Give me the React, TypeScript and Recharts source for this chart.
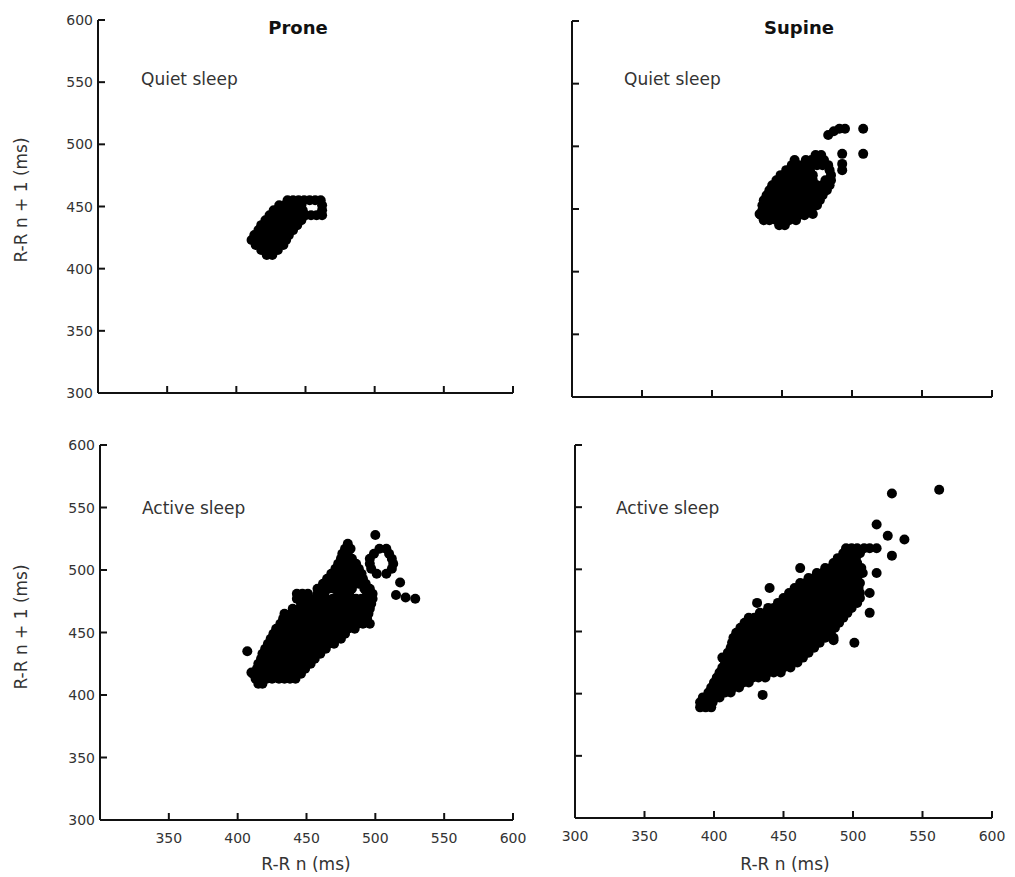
import React from "react";
import { ScatterChart, Scatter, XAxis, YAxis } from "recharts";

// tick values shared by both axes
const TICKS = [300, 350, 400, 450, 500, 550, 600];

const proneQuietRows = [
  [411, 422, 426],
  [415, 418, 422, 426, 430],
  [419, 414, 418, 423, 427, 431, 434],
  [423, 411, 415, 419, 424, 428, 432, 436],
  [427, 413, 417, 421, 426, 430, 434, 438],
  [431, 416, 420, 424, 429, 433, 437, 441],
  [435, 418, 422, 427, 431, 435, 440, 444],
  [439, 421, 425, 430, 434, 438, 443, 447],
  [443, 424, 428, 433, 437, 441, 446, 450, 454, 458, 462],
  [447, 427, 431, 436, 440, 444, 448, 462],
  [451, 431, 435, 439, 443, 447, 462],
  [455, 437, 441, 445, 449, 453, 457, 461],
];
const proneQuietExtra: number[][] = [];

const supineQuietRows = [
  [437, 448, 452],
  [441, 437, 441, 446, 450, 455, 460],
  [445, 435, 440, 444, 449, 453, 458, 462, 466],
  [449, 436, 440, 445, 449, 454, 458, 462, 467, 471],
  [453, 436, 441, 445, 450, 454, 459, 463, 468, 472, 475],
  [457, 437, 442, 446, 451, 455, 460, 464, 469, 473, 477],
  [461, 439, 443, 448, 452, 457, 461, 466, 470, 475, 479],
  [465, 441, 445, 450, 454, 459, 463, 468, 472, 477, 482],
  [469, 443, 448, 452, 457, 461, 466, 470, 475, 479, 484],
  [473, 446, 450, 455, 459, 464, 468, 472, 481, 485],
  [477, 449, 454, 458, 463, 467, 472, 485],
  [481, 453, 457, 462, 466, 470, 484],
  [485, 457, 462, 466, 471, 475, 479, 483],
  [489, 459, 467, 471, 476, 480],
  [493, 474, 478],
];
const supineQuietExtra = [
  [508, 514], [508, 494], [483, 509], [487, 512], [491, 514], [495, 514],
  [493, 494], [493, 486], [493, 481], [472, 446], [434, 446],
];

const proneActiveRows = [
  [409, 415, 418],
  [413, 413, 417, 421, 425, 430, 434, 438, 442],
  [417, 411, 415, 419, 424, 428, 432, 437, 441, 446],
  [421, 414, 418, 422, 427, 431, 435, 440, 444, 449],
  [425, 415, 419, 424, 428, 432, 437, 441, 445, 450, 453],
  [429, 417, 421, 425, 430, 434, 438, 443, 447, 451, 456],
  [433, 418, 422, 427, 431, 435, 440, 444, 448, 453, 457, 460],
  [437, 420, 424, 429, 433, 437, 442, 446, 450, 455, 459, 464],
  [441, 422, 426, 431, 435, 439, 444, 448, 452, 457, 461, 466, 470],
  [445, 424, 428, 433, 437, 441, 446, 450, 454, 459, 463, 467, 471, 475],
  [449, 426, 430, 435, 439, 443, 448, 452, 456, 461, 465, 469, 474, 478],
  [453, 428, 432, 437, 441, 445, 450, 454, 458, 463, 467, 471, 476, 480, 485],
  [457, 431, 435, 439, 444, 448, 452, 457, 461, 465, 470, 474, 478, 483, 487, 491, 496],
  [461, 433, 437, 442, 446, 450, 455, 459, 463, 468, 472, 476, 481, 485, 489, 494],
  [465, 434, 439, 444, 448, 452, 457, 461, 465, 470, 474, 478, 483, 487, 491, 495],
  [469, 440, 445, 449, 454, 458, 462, 467, 471, 475, 480, 484, 488, 492, 496],
  [473, 446, 450, 455, 459, 463, 468, 472, 476, 481, 485, 489, 493, 497],
  [477, 443, 447, 451, 456, 460, 464, 469, 473, 477, 482, 486, 490, 494, 498],
  [481, 443, 447, 451, 458, 463, 473, 477, 481, 494, 498],
  [485, 458, 462, 466, 470, 475, 479, 483, 492, 496],
  [489, 462, 466, 471, 475, 479, 484, 488, 493],
  [493, 465, 469, 474, 478, 482, 487, 491],
  [497, 468, 472, 477, 481, 485, 490, 501, 508],
  [501, 471, 475, 480, 484, 488, 497, 512],
  [505, 473, 477, 482, 486, 496, 513],
  [509, 475, 479, 483, 496, 512],
  [513, 476, 480, 499, 510],
  [517, 478, 482, 503, 508],
  [521, 480],
  [528, 500],
];
const proneActiveExtra = [
  [407, 435], [410, 418], [518, 490], [515, 480], [522, 478], [529, 477],
];

const supineActiveRows = [
  [389, 390, 394, 398],
  [393, 390, 395, 399],
  [397, 392, 396, 401, 404],
  [401, 396, 400, 404, 408, 412],
  [405, 398, 402, 406, 410, 414, 418],
  [409, 400, 404, 408, 413, 417, 421, 425],
  [413, 402, 406, 411, 415, 419, 424, 428, 432, 437],
  [417, 404, 408, 413, 417, 421, 426, 430, 434, 439, 443, 448],
  [421, 406, 410, 415, 419, 423, 428, 432, 436, 441, 445, 450, 455],
  [425, 408, 412, 417, 421, 425, 430, 434, 438, 443, 447, 452, 456, 460],
  [429, 406, 411, 415, 419, 424, 428, 432, 437, 441, 445, 450, 454, 459, 464],
  [433, 410, 414, 418, 423, 427, 431, 436, 440, 444, 449, 453, 458, 462, 468],
  [437, 412, 416, 421, 425, 429, 434, 438, 442, 447, 451, 456, 460, 464, 468, 472],
  [441, 413, 417, 422, 426, 430, 435, 439, 443, 448, 452, 457, 461, 465, 470, 476, 501],
  [445, 414, 419, 423, 427, 432, 436, 440, 445, 449, 454, 458, 462, 467, 471, 476, 480, 486],
  [449, 416, 420, 425, 429, 433, 438, 442, 446, 451, 455, 459, 464, 468, 472, 477, 481, 484],
  [453, 419, 423, 427, 432, 436, 440, 445, 449, 453, 458, 462, 466, 471, 475, 479, 483, 487],
  [457, 422, 426, 430, 435, 439, 443, 448, 452, 456, 461, 465, 469, 474, 478, 482, 486, 490],
  [461, 425, 429, 434, 438, 442, 447, 451, 455, 460, 464, 468, 473, 477, 481, 485, 489, 493],
  [465, 433, 437, 441, 446, 450, 455, 459, 463, 468, 472, 476, 481, 485, 489, 493, 496, 512],
  [469, 439, 443, 447, 452, 456, 460, 465, 469, 473, 478, 482, 486, 491, 495, 499],
  [473, 431, 446, 450, 454, 459, 463, 467, 472, 476, 480, 485, 489, 493, 497, 503],
  [477, 450, 454, 458, 463, 467, 471, 476, 480, 484, 489, 493, 497, 501, 505],
  [481, 454, 458, 463, 467, 471, 476, 480, 484, 489, 493, 497, 501, 505, 512],
  [485, 440, 458, 462, 467, 471, 475, 480, 484, 488, 493, 497, 501, 504],
  [489, 462, 466, 470, 475, 479, 483, 488, 492, 496, 501, 505],
  [493, 468, 472, 477, 481, 485, 490, 494, 498, 503],
  [497, 474, 478, 482, 487, 491, 495, 499, 503, 507, 517],
  [501, 462, 480, 484, 488, 493, 497, 501, 506],
  [505, 486, 490, 494, 499, 503],
  [509, 489, 493, 498, 502],
  [513, 493, 497, 501, 505],
  [517, 495, 499, 503, 508, 512, 517],
];
const supineActiveExtra = [
  [562, 564], [528, 561], [517, 536], [525, 527], [537, 524], [528, 511],
  [435, 399], [486, 443],
];

const toPoints = (rows: number[][], extra: number[][]) => [
  ...rows.flatMap(([y, ...xs]) => xs.map((x) => ({ x, y }))),
  ...extra.map(([x, y]) => ({ x, y })),
];

const FONT = "DejaVu Sans";
const INK = "#111";
const YW = 60;
const XH = 40;
const MT = 10;
const MR = 15;

const Dot = (props: any) => <circle cx={props.cx} cy={props.cy} r={5} fill="#000" />;

const makeYTick = (show: boolean) => (props: any) => {
  const { x, y, payload } = props;
  return (
    <g>
      <line x1={x} x2={x + 7} y1={y} y2={y} stroke={INK} strokeWidth={2} />
      {show && (
        <text x={x - 5} y={y + 5} textAnchor="end" fontSize={14} fill="#333" fontFamily={FONT}>
          {payload.value}
        </text>
      )}
    </g>
  );
};

const makeXTick = (from: number | null) => (props: any) => {
  const { x, y, payload } = props;
  return (
    <g>
      <line x1={x} x2={x} y1={y} y2={y - 7} stroke={INK} strokeWidth={2} />
      {from !== null && payload.value >= from && (
        <text x={x} y={y + 23} textAnchor="middle" fontSize={14} fill="#333" fontFamily={FONT}>
          {payload.value}
        </text>
      )}
    </g>
  );
};

type PanelProps = {
  left: number;
  top: number;
  w: number;
  h: number;
  data: { x: number; y: number }[];
  xFrom: number | null;
  yLabels: boolean;
};

const Panel = ({ left, top, w, h, data, xFrom, yLabels }: PanelProps) => (
  <div style={{ position: "absolute", left: left - YW, top: top - MT }}>
    <ScatterChart
      width={YW + w + MR}
      height={MT + h + XH}
      margin={{ top: MT, right: MR, bottom: 0, left: 0 }}
    >
      <XAxis
        type="number"
        dataKey="x"
        domain={[300, 600]}
        ticks={TICKS}
        interval={0}
        height={XH}
        tickSize={0}
        tickMargin={0}
        tickLine={false}
        axisLine={{ stroke: INK, strokeWidth: 2 }}
        tick={makeXTick(xFrom)}
      />
      <YAxis
        type="number"
        dataKey="y"
        domain={[300, 600]}
        ticks={TICKS}
        interval={0}
        width={YW}
        tickSize={0}
        tickMargin={0}
        tickLine={false}
        axisLine={{ stroke: INK, strokeWidth: 2 }}
        tick={makeYTick(yLabels)}
      />
      <Scatter data={data} shape={Dot} isAnimationActive={false} />
    </ScatterChart>
  </div>
);

const txt = { fontFamily: FONT, fill: "#333" };

export default function App() {
  return (
    <div style={{ position: "absolute", left: 0, top: 0, width: 1015, height: 877, background: "#fff" }}>
      <Panel left={98} top={20} w={415} h={373} data={toPoints(proneQuietRows, proneQuietExtra)} xFrom={null} yLabels />
      <Panel left={572} top={21} w={420} h={376} data={toPoints(supineQuietRows, supineQuietExtra)} xFrom={null} yLabels={false} />
      <Panel left={100} top={445} w={413} h={375} data={toPoints(proneActiveRows, proneActiveExtra)} xFrom={350} yLabels />
      <Panel left={575} top={445} w={417} h={373} data={toPoints(supineActiveRows, supineActiveExtra)} xFrom={300} yLabels={false} />
      <svg width={1015} height={877} style={{ position: "absolute", left: 0, top: 0, pointerEvents: "none" }}>
        <text x={298} y={34} textAnchor="middle" fontSize={18} fontWeight="bold" fontFamily={FONT} fill={INK}>Prone</text>
        <text x={799} y={34} textAnchor="middle" fontSize={18} fontWeight="bold" fontFamily={FONT} fill={INK}>Supine</text>
        <text x={141} y={85} fontSize={17} {...txt}>Quiet sleep</text>
        <text x={624} y={85} fontSize={17} {...txt}>Quiet sleep</text>
        <text x={142} y={514} fontSize={17} {...txt}>Active sleep</text>
        <text x={616} y={514} fontSize={17} {...txt}>Active sleep</text>
        <text x={27} y={200} transform="rotate(-90 27 200)" textAnchor="middle" fontSize={17} {...txt}>R-R n + 1 (ms)</text>
        <text x={27} y={627} transform="rotate(-90 27 627)" textAnchor="middle" fontSize={17} {...txt}>R-R n + 1 (ms)</text>
        <text x={306} y={870} textAnchor="middle" fontSize={17} {...txt}>R-R n (ms)</text>
        <text x={785} y={870} textAnchor="middle" fontSize={17} {...txt}>R-R n (ms)</text>
      </svg>
    </div>
  );
}
